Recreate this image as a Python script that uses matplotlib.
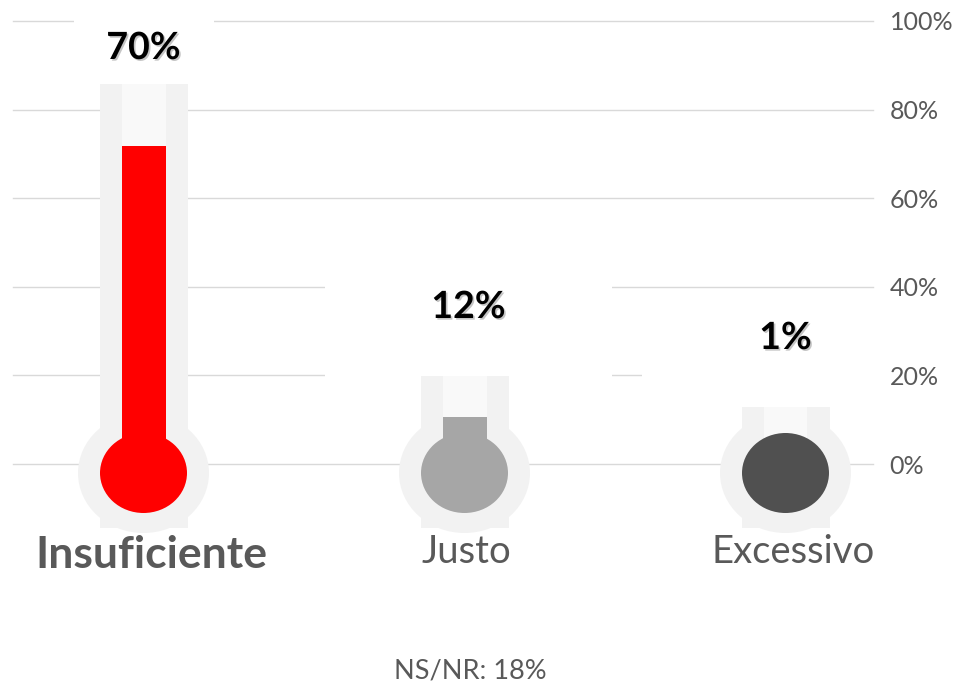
import matplotlib
matplotlib.use("Agg")
import matplotlib.pyplot as plt
from matplotlib.patches import Rectangle, Ellipse
import matplotlib.patheffects as pe

# ---- data ----
categories = ["Insuficiente", "Justo", "Excessivo"]
value_labels = ["70%", "12%", "1%"]
fill_values = [71.8, 10.6, 1.0]        # height of coloured column (% axis)
tube_tops = [85.8, 19.9, 12.9]         # height of grey background tube
fill_colors = ["#ff0000", "#a6a6a6", "#505050"]
yticks = [0, 20, 40, 60, 80, 100]
ytick_labels = ["0%", "20%", "40%", "60%", "80%", "100%"]
footnote = "NS/NR: 18%"

plt.rcParams['font.family'] = ['Lato', 'DejaVu Sans']

W, H = 957, 686
fig = plt.figure(figsize=(W / 100, H / 100), dpi=100)
left_px, right_px, top_px, bot_px = 13, 873, 21, 464
ax = fig.add_axes([left_px / W, 1 - bot_px / H, (right_px - left_px) / W, (bot_px - top_px) / H])

spacing = 321.0
x0_px = 143.5
ax.set_xlim(-(x0_px - left_px) / spacing, 2 + (right_px - (x0_px + 2 * spacing)) / spacing)
ax.set_ylim(0, 100)
ppy = (bot_px - top_px) / 100.0   # pixels per %

def dx(px):
    return px / spacing

def dy(px):
    return px / ppy

ax.set_yticks(yticks)
ax.set_yticklabels(ytick_labels)
ax.yaxis.tick_right()
ax.tick_params(axis='y', length=0, pad=12, labelsize=18, labelcolor='#595959')
ax.set_xticks([])
for s in ax.spines.values():
    s.set_visible(False)
ax.set_axisbelow(True)
ax.grid(axis='y', color='#d9d9d9', linewidth=1.0)
for gl in ax.yaxis.get_gridlines():
    gl.set_clip_on(False)

# white label backgrounds (they hide gridlines as in the reference)
ax_right = ax.get_xlim()[1]
boxes = [(-dx(69.5), dy(464 - 74), dx(140), dy(80)),
         (1 + dx(327 - 467), dy(464 - 377), dx(287), dy(95)),
         (2 + dx(642 - 785.5), dy(464 - 405), None, dy(116))]
for (bx, by, bw, bh) in boxes:
    if bw is None:
        bw = ax_right + dx(2) - bx
    ax.add_patch(Rectangle((bx, by), bw, bh, facecolor='white', edgecolor='none',
                           zorder=1.5, clip_on=False))

outer_w = dx(88)
inner_w = dx(44)
bulb_w, bulb_h = dx(87), dy(80)
ring_w, ring_h = dx(131), dy(120)
bulb_cy = -dy(473 - 464)
tube_bottom = -dy(528 - 464)

for i, (cat, val, top, col) in enumerate(zip(categories, fill_values, tube_tops, fill_colors)):
    ax.add_patch(Rectangle((i - outer_w / 2, tube_bottom), outer_w, top - tube_bottom,
                           facecolor='#f2f2f2', edgecolor='none', zorder=2, clip_on=False))
    ax.add_patch(Ellipse((i, bulb_cy), ring_w, ring_h, facecolor='#f2f2f2',
                         edgecolor='none', zorder=2, clip_on=False))
    ax.add_patch(Rectangle((i - inner_w / 2, bulb_cy), inner_w, top - bulb_cy,
                           facecolor='#f9f9f9', edgecolor='none', zorder=3, clip_on=False))
    ax.add_patch(Rectangle((i - inner_w / 2, bulb_cy), inner_w, val - bulb_cy,
                           facecolor=col, edgecolor='none', zorder=4, clip_on=False))
    ax.add_patch(Ellipse((i, bulb_cy), bulb_w, bulb_h, facecolor=col,
                         edgecolor='none', zorder=4, clip_on=False))

# value labels
label_base_px = [59, 318, 349]
label_dx_px = [0, 4, 0]
shadow = [pe.SimplePatchShadow(offset=(1.2, -1.2), shadow_rgbFace='#808080', alpha=0.45), pe.Normal()]
for i, (lab, bpx, ox) in enumerate(zip(value_labels, label_base_px, label_dx_px)):
    ax.text(i + dx(ox), dy(bot_px - bpx), lab, ha='center', va='baseline',
            fontsize=27, fontweight='bold', color='black', zorder=6,
            path_effects=shadow, clip_on=False)

# category labels
cat_base_px = [568, 563, 563]
cat_dx_px = [8, 2, 7.5]
cat_weights = ['bold', 'normal', 'normal']
cat_sizes = [32, 27.5, 27.5]
for i, (cat, bpx, ox, w, fs) in enumerate(zip(categories, cat_base_px, cat_dx_px, cat_weights, cat_sizes)):
    ax.text(i + dx(ox), -dy(bpx - bot_px), cat, ha='center', va='baseline',
            fontsize=fs, fontweight=w, color='#595959', clip_on=False, zorder=6)

fig.text(470 / W, 1 - 679 / H, footnote, ha='center', va='baseline',
         fontsize=19.5, color='#595959')

fig.savefig("out.png", dpi=100, facecolor='white')
